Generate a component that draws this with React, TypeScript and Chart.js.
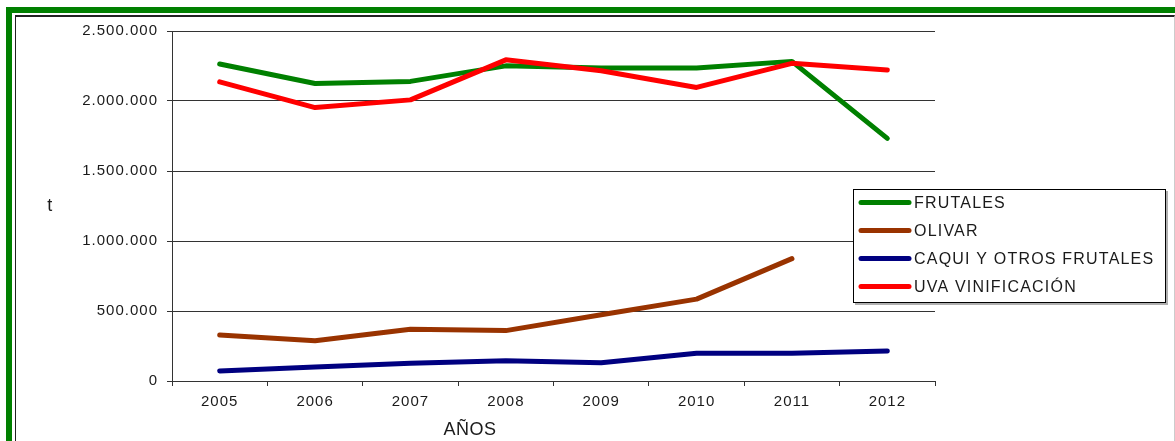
import React, { useEffect, useRef } from 'react';
import { Chart, registerables } from 'chart.js';

Chart.register(...registerables);

const categories = ['2005', '2006', '2007', '2008', '2009', '2010', '2011', '2012'];
const frutales = [2264000, 2125000, 2140000, 2251000, 2235000, 2235000, 2283000, 1733000];
const olivar = [329000, 287000, 370000, 360000, 473000, 585000, 874000, null];
const caqui = [72000, 100000, 127000, 145000, 131000, 198000, 198000, 215000];
const uva = [2137000, 1953000, 2008000, 2294000, 2216000, 2097000, 2269000, 2221000];
const yTicks = [0, 500000, 1000000, 1500000, 2000000, 2500000];
const seriesNames = ['FRUTALES', 'OLIVAR', 'CAQUI Y OTROS FRUTALES', 'UVA VINIFICACIÓN'];
const seriesColors = ['#008000', '#993300', '#000080', '#FF0000'];
const yTitle = 't';
const xTitle = 'AÑOS';

const FONT = "'Liberation Sans', Arial, sans-serif";
const TEXT = '#1a1a1a';
const GRID = '#333333';

function fmt(v: number): string {
  return String(Math.round(v)).replace(/\B(?=(\d{3})+(?!\d))/g, '.');
}

const overlayPlugin = {
  id: 'overlay',
  beforeDraw(chart: any) {
    (chart.ctx as any).letterSpacing = '1px';
  },
  afterDraw(chart: any) {
    const ctx = chart.ctx as CanvasRenderingContext2D;
    const area = chart.chartArea;
    ctx.save();
    (ctx as any).letterSpacing = '0.5px';
    ctx.fillStyle = TEXT;
    ctx.font = `18px ${FONT}`;
    ctx.textAlign = 'center';
    ctx.textBaseline = 'middle';
    ctx.fillText(yTitle, 50, (area.top + area.bottom) / 2);
    ctx.fillText(xTitle, 470, 430);

    // legend box
    const lx = 853, ly = 189, lw = 313, lh = 114;
    ctx.fillStyle = '#b0b0b0';
    ctx.fillRect(lx + 2, ly + 2, lw, lh);
    ctx.fillStyle = '#ffffff';
    ctx.fillRect(lx, ly, lw, lh);
    ctx.strokeStyle = '#000';
    ctx.lineWidth = 1;
    ctx.strokeRect(lx + 0.5, ly + 0.5, lw - 1, lh - 1);
    (ctx as any).letterSpacing = '1.2px';
    ctx.font = `16px ${FONT}`;
    ctx.textAlign = 'left';
    chart.data.datasets.forEach((ds: any, i: number) => {
      const y = 202.5 + i * 28;
      ctx.strokeStyle = ds.borderColor;
      ctx.lineWidth = 5;
      ctx.lineCap = 'round';
      ctx.beginPath();
      ctx.moveTo(861, y);
      ctx.lineTo(909, y);
      ctx.stroke();
      ctx.fillStyle = TEXT;
      ctx.fillText(ds.label, 914, y + 1);
    });
    ctx.restore();
  },
};

export default function App() {
  const ref = useRef<HTMLCanvasElement>(null);

  useEffect(() => {
    if (!ref.current) return;
    const series = [frutales, olivar, caqui, uva];
    const chart = new Chart(ref.current, {
      type: 'line',
      data: {
        labels: categories,
        datasets: series.map((d, i) => ({
          label: seriesNames[i],
          data: d,
          borderColor: seriesColors[i],
          backgroundColor: seriesColors[i],
          borderWidth: 5,
          borderCapStyle: 'round',
          borderJoinStyle: 'round',
          pointRadius: 0,
          pointHoverRadius: 0,
          fill: false,
          tension: 0,
          spanGaps: false,
          order: i === 3 ? 0 : 1,
        })) as any,
      },
      options: {
        animation: false,
        responsive: false,
        maintainAspectRatio: false,
        layout: { padding: { left: 0, right: 240, top: 31, bottom: 0 } },
        plugins: {
          legend: { display: false },
          tooltip: { enabled: false },
          title: { display: false },
        },
        scales: {
          x: {
            type: 'category',
            offset: true,
            grid: {
              offset: true,
              drawOnChartArea: false,
              drawTicks: true,
              tickLength: 5,
              color: GRID,
            },
            border: { display: true, color: GRID, width: 1 },
            ticks: {
              color: TEXT,
              font: { family: FONT, size: 15 },
              padding: 7,
              maxRotation: 0,
              autoSkip: false,
            },
            afterFit(scale: any) {
              scale.height = 60;
            },
          },
          y: {
            type: 'linear',
            min: 0,
            max: 2500000,
            grid: {
              drawTicks: true,
              tickLength: 5,
              color: GRID,
            },
            border: { display: true, color: GRID, width: 1 },
            ticks: {
              color: TEXT,
              font: { family: FONT, size: 15 },
              padding: 9,
              callback: (v: any) => fmt(Number(v)),
            },
            afterBuildTicks(scale: any) {
              scale.ticks = yTicks.map((v) => ({ value: v }));
            },
            afterFit(scale: any) {
              scale.width = 172;
            },
          },
        },
      },
      plugins: [overlayPlugin],
    });
    return () => chart.destroy();
  }, []);

  return (
    <div
      style={{
        position: 'absolute',
        left: 0,
        top: 0,
        width: 1175,
        height: 441,
        overflow: 'hidden',
        background: '#ffffff',
      }}
    >
      <div
        style={{
          position: 'absolute',
          left: 6,
          top: 7,
          width: 1300,
          height: 600,
          borderTop: '6px solid #008000',
          borderLeft: '6px solid #008000',
          boxSizing: 'border-box',
        }}
      />
      <div
        style={{
          position: 'absolute',
          left: 15,
          top: 15,
          width: 1160,
          height: 600,
          borderTop: '2px solid #222',
          borderLeft: '1px solid #222',
          borderRight: '1px solid #cccccc',
          boxSizing: 'border-box',
        }}
      />
      <canvas
        ref={ref}
        width={1175}
        height={441}
        style={{ position: 'absolute', left: 0, top: 0, width: 1175, height: 441 }}
      />
    </div>
  );
}
